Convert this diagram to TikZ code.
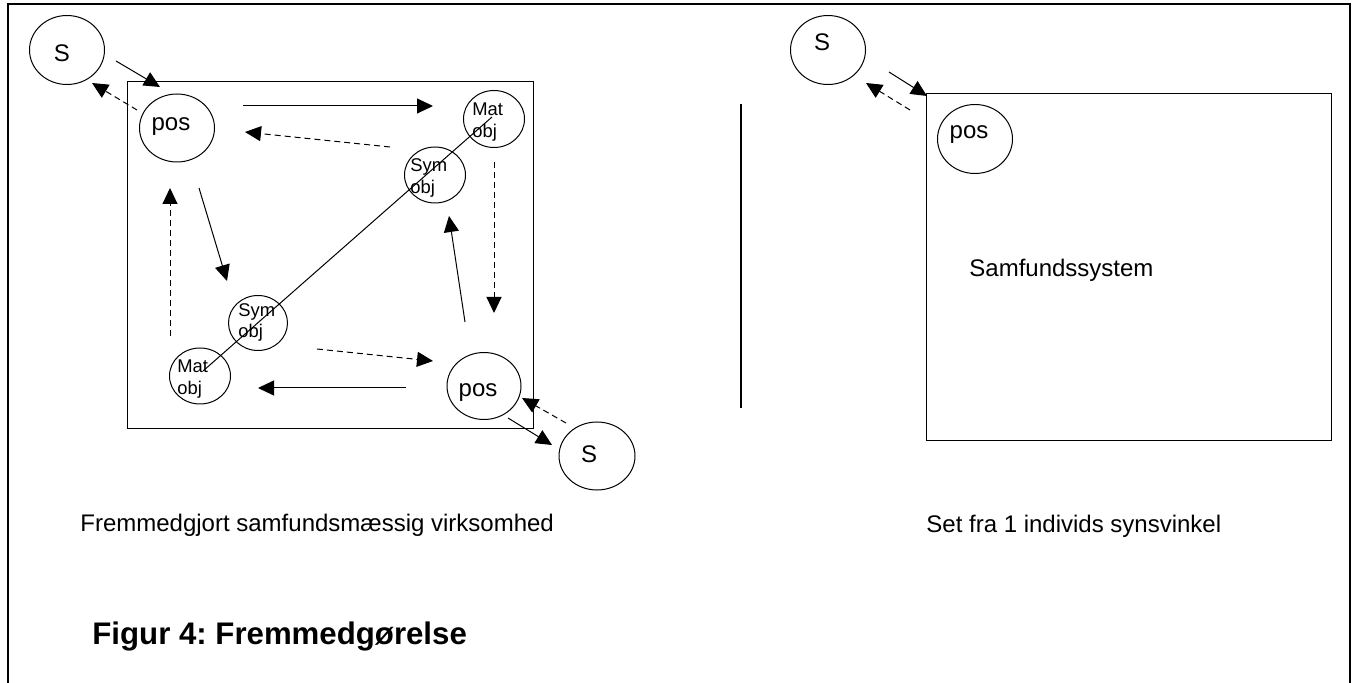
\documentclass[tikz,border=0pt]{standalone}
\usepackage{fontspec}
\setmainfont{Liberation Sans}
\usetikzlibrary{arrows.meta,shapes.geometric}
\frenchspacing
\begin{document}
\begin{tikzpicture}[x=0.5pt,y=-0.5pt,
 oval/.style={draw,ellipse,line width=0.5pt,inner sep=0pt},
 lbl/.style={font=\fontsize{12}{14}\selectfont,inner sep=0pt,anchor=base},
 lblw/.style={font=\fontsize{12}{14}\selectfont,inner sep=0pt,anchor=base west},
 sml/.style={font=\fontsize{9.2}{11}\selectfont,inner sep=0pt,anchor=base west},
 sol/.style={line width=0.5pt,-{Triangle[length=8pt,width=7.5pt]}},
 dsh/.style={sol,dash pattern=on 3pt off 2pt},
 frame/.style={line width=0.5pt}]
\useasboundingbox (0,0) rectangle (1358,683);
% outer frame (open at the bottom)
\draw[line width=0.8pt] (8,683) -- (8,4) -- (1350,4) -- (1350,683);

% ---------------- left panel ----------------
\draw[frame] (127,82) rectangle (533,429);

\node[oval,minimum width=37.5pt,minimum height=34.5pt] (S1) at (67,50) {};
\node[lbl] (S1t) at (62,62) {S};
\node[oval,minimum width=37.5pt,minimum height=34pt] (P1) at (177,128) {};
\node[lbl] (P1t) at (171,131) {pos};

\node[oval,minimum width=30.5pt,minimum height=28.5pt] (M1) at (494,119) {};
\node[sml] (M1a) at (472,116) {Mat};
\node[sml] (M1b) at (472,138) {obj};
\node[oval,minimum width=30.5pt,minimum height=28pt] (Y1) at (435,175) {};
\node[sml] (Y1a) at (410,172) {Sym};
\node[sml] (Y1b) at (410,194) {obj};

\node[oval,minimum width=29.5pt,minimum height=27.5pt] (Y2) at (258,323) {};
\node[sml] (Y2a) at (238,317) {Sym};
\node[sml] (Y2b) at (238,338) {obj};
\node[oval,minimum width=30.5pt,minimum height=28pt] (M2) at (200,376) {};
\node[sml] (M2a) at (177,373) {Mat};
\node[sml] (M2b) at (177,395) {obj};

\node[oval,minimum width=37pt,minimum height=33.5pt] (P2) at (484,386) {};
\node[lbl] (P2t) at (478,397) {pos};
\node[oval,minimum width=38pt,minimum height=34pt] (S2) at (597,456) {};
\node[lbl] (S2t) at (589,463) {S};

% connector end points
\coordinate (a1) at (116,61);  \coordinate (a2) at (160,87);
\coordinate (b1) at (137,110); \coordinate (b2) at (92,83);
\coordinate (c1) at (243,106); \coordinate (c2) at (433,106);
\coordinate (d1) at (390,147); \coordinate (d2) at (245,132);
\coordinate (e1) at (494,162); \coordinate (e2) at (494,313);
\coordinate (f1) at (465,322); \coordinate (f2) at (449,216);
\coordinate (g1) at (199,188); \coordinate (g2) at (227,281);
\coordinate (h1) at (170,336); \coordinate (h2) at (170,188);
\coordinate (i1) at (317,349); \coordinate (i2) at (433,361);
\coordinate (j1) at (406,388); \coordinate (j2) at (258,388);
\coordinate (k1) at (508,418); \coordinate (k2) at (552,445);
\coordinate (l1) at (566,423); \coordinate (l2) at (522,398);
\coordinate (m1) at (492,117); \coordinate (m2) at (203,371);

\draw[sol] (a1) -- (a2);
\draw[dsh] (b1) -- (b2);
\draw[sol] (c1) -- (c2);
\draw[dsh] (d1) -- (d2);
\draw[dsh] (e1) -- (e2);
\draw[sol] (f1) -- (f2);
\draw[sol] (g1) -- (g2);
\draw[dsh] (h1) -- (h2);
\draw[dsh] (i1) -- (i2);
\draw[sol] (j1) -- (j2);
\draw[sol] (k1) -- (k2);
\draw[dsh] (l1) -- (l2);
\draw[line width=0.5pt] (m1) -- (m2);

\node[lblw] (cap1) at (80,531) {Fremmedgjort samfundsmæssig virksomhed};

% divider
\coordinate (v1) at (741,104); \coordinate (v2) at (741,408);
\draw[line width=0.6pt] (v1) -- (v2);

% ---------------- right panel ----------------
\draw[frame] (926,94) rectangle (1331,441);
\node[oval,minimum width=37.5pt,minimum height=34.5pt] (S3) at (828,50) {};
\node[lbl] (S3t) at (822,51) {S};
\node[oval,minimum width=37.5pt,minimum height=34.5pt] (P3) at (975,139) {};
\node[lbl] (P3t) at (969,139) {pos};
\coordinate (n1) at (889,72);  \coordinate (n2) at (927,96);
\coordinate (o1) at (910,110); \coordinate (o2) at (866,83);
\draw[sol] (n1) -- (n2);
\draw[dsh] (o1) -- (o2);
\node[lblw] (sys) at (969,277) {Samfundssystem};
\node[lblw] (cap2) at (926,532) {Set fra 1 individs synsvinkel};

\node[font=\fontsize{15.6}{18}\selectfont\bfseries,inner sep=0pt,anchor=base west] (title) at (92,644) {Figur 4: Fremmedgørelse};
\end{tikzpicture}
\end{document}
